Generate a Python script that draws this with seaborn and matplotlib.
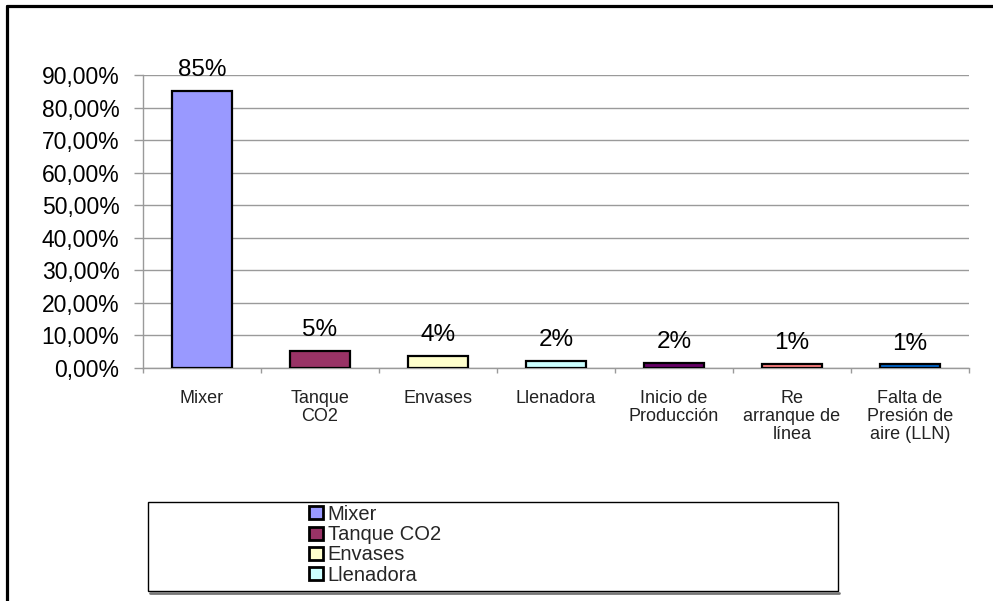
import matplotlib
matplotlib.use("Agg")
import matplotlib.pyplot as plt
from matplotlib.ticker import FixedLocator, FuncFormatter
from matplotlib.lines import Line2D
from matplotlib.patches import Rectangle
import seaborn as sns
import pandas as pd

# Share of stoppage causes (fraction of total downtime)
categories = ["Mixer", "Tanque\nCO2", "Envases", "Llenadora",
              "Inicio de\nProducción", "Re\narranque de\nlínea",
              "Falta de\nPresión de\naire (LLN)"]
legend_names = ["Mixer", "Tanque CO2", "Envases", "Llenadora"]
shares = [0.851, 0.052, 0.037, 0.021, 0.016, 0.013, 0.011]
bar_colors = ["#9999FF", "#993366", "#FFFFCC", "#CCFFFF",
              "#660066", "#FF8080", "#0066CC"]
y_ticks = [0.0, 0.1, 0.2, 0.3, 0.4, 0.5, 0.6, 0.7, 0.8, 0.9]

sns.set_theme(style="white")
plt.rcParams["font.family"] = ["Liberation Sans", "DejaVu Sans"]

df = pd.DataFrame({"causa": categories, "porcentaje": shares})

W, H = 993, 601
fig = plt.figure(figsize=(W / 100, H / 100), dpi=100)
fig.patch.set_facecolor("white")
ax = fig.add_axes([143 / W, 1 - 368 / H, (969 - 143) / W, (368 - 75) / H])

sns.barplot(data=df, x="causa", y="porcentaje", hue="causa",
            palette=bar_colors, order=categories, hue_order=categories,
            width=0.51, edgecolor="black", linewidth=1.6, saturation=1,
            legend=False, ax=ax, zorder=3)

ax.set_ylim(0, 0.9)
ax.set_xlim(-0.5, len(categories) - 0.5)
ax.set_xlabel("")
ax.set_ylabel("")

# Horizontal gridlines
ax.yaxis.set_major_locator(FixedLocator(y_ticks))
ax.yaxis.set_major_formatter(
    FuncFormatter(lambda v, _: f"{v * 100:.2f}%".replace(".", ",")))
ax.grid(axis="y", color="#9a9a9a", linewidth=1.0, zorder=0)
ax.grid(axis="x", visible=False)
ax.set_axisbelow(True)

for side in ("top", "right"):
    ax.spines[side].set_visible(False)
for side in ("left", "bottom"):
    ax.spines[side].set_color("#9a9a9a")
    ax.spines[side].set_linewidth(1.0)

ax.tick_params(axis="y", which="major", direction="out", length=6.5,
               width=1.0, color="#9a9a9a", pad=10.5, labelsize=16.5,
               labelcolor="black", left=True)
ax.set_xticks(range(len(categories)))
ax.set_xticklabels(categories, fontsize=13, color="#222222",
                   linespacing=1.08, va="top", ha="center")
ax.tick_params(axis="x", which="major", length=0, pad=16)
ax.set_xticks([i - 0.5 for i in range(len(categories) + 1)], minor=True)
ax.tick_params(axis="x", which="minor", direction="out", length=3.6,
               width=1.0, color="#9a9a9a", bottom=True)

# Value labels above bars
for cont in ax.containers:
    ax.bar_label(cont, fmt="{:.0%}", padding=7, fontsize=17.5,
                 color="black", clip_on=False)

# Legend box (lower part of the chart area)
frame = Rectangle((148 / W, 1 - 591 / H), (838 - 148) / W, (591 - 502) / H,
                  transform=fig.transFigure, facecolor="white",
                  edgecolor="black", linewidth=1.0, zorder=1)
fig.patches.append(frame)
shadow = Line2D([150 / W, 839 / W], [1 - 592.5 / H, 1 - 592.5 / H],
                transform=fig.transFigure, color="#777777", linewidth=2)
fig.lines.append(shadow)

handles = list(ax.patches[:len(legend_names)])
leg = fig.legend(handles, legend_names, loc="upper left",
                 bbox_to_anchor=(309 / W, 1 - 505 / H),
                 bbox_transform=fig.transFigure, frameon=False,
                 fontsize=14.5, handlelength=0.68, handleheight=0.62,
                 handletextpad=0.25, labelspacing=0.06, borderpad=0,
                 borderaxespad=0)
for h in leg.legend_handles:
    h.set_linewidth(2.0)
    h.set_edgecolor("black")

# Outer chart-area border (top and left edges)
fig.lines.append(Line2D([6.5 / W, 1.0], [1 - 5.5 / H, 1 - 5.5 / H],
                        transform=fig.transFigure, color="black",
                        linewidth=2.3))
fig.lines.append(Line2D([6.5 / W, 6.5 / W], [1 - 5.5 / H, 0.0],
                        transform=fig.transFigure, color="black",
                        linewidth=2.3))

fig.savefig("out.png", dpi=100, facecolor="white")
